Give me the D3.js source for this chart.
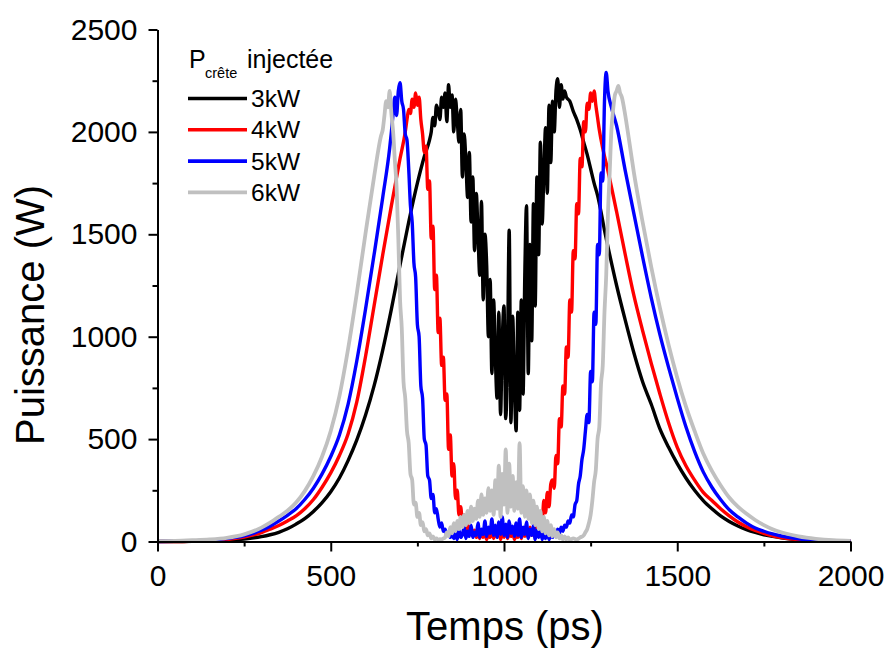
<!DOCTYPE html>
<html><head><meta charset="utf-8">
<script src="https://cdn.jsdelivr.net/npm/d3@7"></script>
<style>
body{margin:0;background:#fff}
text{font-family:"Liberation Sans",Arial,Helvetica,sans-serif;fill:#000}
</style>
</head><body>
<svg id="c" width="889" height="648"></svg>
<script>
// ---------- DATA ----------
const xTicks = [0, 500, 1000, 1500, 2000];
const xMinorTicks = [250, 750, 1250, 1750];
const yTicks = [0, 500, 1000, 1500, 2000, 2500];
const yMinorTicks = [250, 750, 1250, 1750, 2250];
const seriesNames = ["3kW", "4kW", "5kW", "6kW"];
const seriesColors = ["#000000", "#ff0000", "#0000ff", "#c0c0c0"];

// [time (ps), power (W)]
const p3kW = [[0,0],[50,0],[100,1],[150,3],[200,6],[250,12],[300,24],[325,33],[350,45],[375,62],[400,85],[425,112],[450,147],[475,190],[500,243],[525,310],[550,395],[575,495],[600,615],[625,760],[650,935],[675,1135],[700,1350],[725,1560],[750,1750],[770,1880],[785,1960],
[790,2000],[795,2070],[800,2030],[805,2130],[810,2100],[815,2060],[820,2170],[825,2120],[830,2190],[835,2050],[840,2230],[845,2120],[850,2180],[855,2000],[860,2160],[865,2060],[870,1950],[875,2110],[880,1780],[885,1990],[890,1860],[895,1680],[900,1900],[905,1560],[910,1780],[915,1420],[920,1700],[925,1500],[930,1300],[935,1660],[940,1180],[945,1500],[950,1350],[955,1000],[960,1280],[965,820],[970,1180],[975,900],[980,700],[985,1120],[990,620],[995,980],[1000,1150],[1005,600],[1010,900],[1015,1520],[1020,580],[1025,1100],[1030,760],[1035,540],[1040,1120],[1045,640],[1050,1180],[1055,720],[1060,1300],[1065,1640],[1070,820],[1075,1450],[1080,980],[1085,1650],[1090,1150],[1095,1780],[1100,1400],[1105,1950],[1110,1550],[1115,1800],[1120,2020],[1125,1700],[1130,2130],[1135,1850],[1140,2150],[1145,2000],[1150,2200],[1155,2260],[1160,2120],[1165,2230],[1170,2160],[1175,2200],[1180,2170],
[1190,2150],[1200,2100],[1210,2060],[1220,2010],[1230,1950],[1240,1890],[1250,1820],[1260,1750],[1270,1690],[1280,1610],[1290,1520],[1300,1440],[1325,1250],[1350,1080],[1375,920],[1400,780],[1425,670],[1450,550],[1475,460],[1500,380],[1525,310],[1550,250],[1575,200],[1600,160],[1625,125],[1650,98],[1675,76],[1700,58],[1725,44],[1750,33],[1775,25],[1800,18],[1850,9],[1900,4],[1950,2],[2000,1]];

const p4kW = [[0,0],[50,0],[100,2],[150,5],[200,10],[250,22],[300,43],[325,60],[350,78],[375,100],[400,125],[425,160],[450,205],[475,265],[500,335],[525,420],[550,525],[575,680],[600,900],[625,1150],[650,1400],[675,1640],[700,1870],[715,2000],
[720,2060],[725,2110],[730,2090],[735,2160],[740,2120],[745,2190],[750,2130],[755,2170],[760,2060],[765,1990],[770,1900],[775,1930],[780,1720],[785,1760],[790,1480],[795,1540],[800,1230],[805,1300],[810,1020],[815,1090],[820,860],[825,900],[830,690],[835,720],[840,450],[845,520],[850,320],[855,380],[860,210],[865,250],[870,130],[875,170],[880,90],[885,130],[890,60],[895,90],
[900,40],[905,60],[910,25],[915,55],[920,20],[925,45],[930,15],[935,50],[940,20],[945,40],[950,10],[955,45],[960,20],[965,60],[970,15],[975,35],[980,25],[985,55],[990,10],[995,40],[1000,20],[1005,65],[1010,15],[1015,40],[1020,25],[1025,50],[1030,10],[1035,35],[1040,20],[1045,55],[1050,15],[1055,45],[1060,25],[1065,60],[1070,20],[1075,70],[1080,30],[1085,60],[1090,40],[1095,80],[1100,50],[1105,110],
[1110,90],[1115,200],[1120,140],[1125,240],[1130,170],[1135,280],[1140,300],[1145,260],[1150,420],[1155,380],[1160,600],[1165,560],[1170,760],[1175,720],[1180,950],[1185,900],[1190,1180],[1195,1120],[1200,1420],[1205,1380],[1210,1650],[1215,1600],[1220,1870],[1225,1830],[1230,2050],[1235,2000],[1240,2140],[1245,2110],[1250,2190],[1255,2150],[1260,2200],[1265,2130],[1270,2070],[1275,2010],
[1285,1920],[1300,1810],[1325,1610],[1350,1400],[1375,1200],[1400,1030],[1425,870],[1450,720],[1475,580],[1500,460],[1525,370],[1550,300],[1575,240],[1600,200],[1625,160],[1650,125],[1675,95],[1700,72],[1725,54],[1750,40],[1775,28],[1800,19],[1850,9],[1900,4],[1950,2],[2000,1]];

const p5kW = [[0,0],[50,1],[100,3],[150,7],[200,14],[250,27],[300,55],[325,75],[350,100],[375,128],[400,160],[425,205],[450,260],[475,330],[500,415],[525,520],[550,670],[575,880],[600,1130],[625,1400],[650,1680],[670,1920],
[675,2000],[680,2090],[685,2170],[690,2080],[695,2200],[700,2240],[705,2150],[710,2110],[715,1990],[720,1960],[725,1820],[730,1640],[735,1560],[740,1360],[745,1290],[750,1060],[755,1000],[760,760],[765,700],[770,500],[775,470],[780,320],[785,300],[790,210],[795,230],[800,140],[805,160],[810,110],[815,70],[820,90],[825,50],[830,60],[835,30],[840,45],[845,20],[850,35],
[855,15],[860,40],[865,10],[870,55],[875,20],[880,35],[885,70],[890,15],[895,50],[900,25],[905,80],[910,20],[915,45],[920,30],[925,90],[930,20],[935,60],[940,35],[945,100],[950,25],[955,70],[960,40],[965,110],[970,30],[975,80],[980,20],[985,95],[990,35],[995,120],[1000,30],[1005,85],[1010,20],[1015,100],[1020,40],[1025,75],[1030,25],[1035,90],[1040,30],[1045,110],[1050,20],[1055,70],[1060,35],[1065,95],[1070,15],[1075,60],[1080,30],[1085,80],[1090,10],[1095,55],[1100,20],[1105,65],[1110,10],[1115,40],[1120,15],[1125,50],[1130,10],[1135,35],[1140,20],[1145,45],
[1150,30],[1155,60],[1160,40],[1165,70],[1170,50],[1175,80],[1180,70],[1185,100],[1190,90],[1195,130],[1200,120],[1205,180],[1210,200],[1215,280],[1220,320],[1225,400],[1230,450],[1235,540],[1240,620],[1245,580],[1250,830],[1255,780],[1260,1120],[1265,1060],[1270,1450],[1275,1400],[1280,1800],[1285,1760],[1290,2150],[1295,2290],[1300,2200],
[1310,2120],[1325,2030],[1350,1810],[1375,1600],[1400,1390],[1425,1190],[1450,1010],[1475,850],[1500,700],[1525,560],[1550,440],[1575,340],[1600,265],[1625,205],[1650,155],[1675,120],[1700,90],[1725,66],[1750,50],[1775,37],[1800,27],[1850,13],[1900,6],[1950,3],[2000,1]];

const p6kW = [[0,2],[50,3],[100,6],[150,10],[200,18],[250,35],[300,68],[325,92],[350,120],[375,150],[400,190],[425,246],[450,320],[475,415],[500,540],[525,710],[550,940],[575,1210],[600,1500],[625,1780],[645,1980],
[650,2010],[655,2080],[660,2150],[665,2120],[670,2200],[675,2090],[680,2000],[685,1860],[690,1730],[695,1480],[700,1180],[705,1040],[710,780],[715,700],[720,540],[725,480],[730,330],[735,300],[740,180],[745,190],[750,120],[755,140],[760,80],[765,95],[770,50],[775,60],[780,30],[785,40],[790,15],[795,25],[800,10],[805,15],[810,8],[815,12],[820,10],[825,15],[830,20],[835,45],[840,25],[845,70],[850,40],[855,90],[860,50],[865,100],[870,60],[875,120],[880,70],[885,130],[890,80],[895,150],[900,90],[905,170],[910,100],[915,160],[920,110],[925,200],[930,120],[935,230],[940,130],[945,210],[950,140],[955,260],[960,150],[965,250],[970,130],[975,300],[980,160],[985,370],[990,120],[995,330],[1000,180],[1005,450],[1010,140],[1015,380],[1020,170],[1025,320],[1030,150],[1035,290],[1040,160],[1045,480],[1050,140],[1055,270],[1060,120],[1065,250],[1070,110],[1075,230],[1080,90],[1085,200],[1090,80],[1095,170],[1100,60],[1105,150],[1110,50],[1115,120],[1120,40],[1125,100],[1130,30],[1135,80],[1140,25],[1145,60],[1150,20],[1155,45],[1160,15],[1165,30],[1170,10],[1175,25],[1180,10],[1185,20],[1190,8],[1200,15],[1210,10],[1220,20],[1230,30],[1235,45],[1240,60],[1245,90],[1250,130],[1255,200],[1260,290],[1265,350],[1270,500],[1275,560],[1280,770],[1285,860],[1290,1120],[1295,1300],[1300,1600],[1305,1800],[1310,2010],[1315,2110],[1320,2180],[1325,2200],[1330,2225],[1335,2190],[1340,2170],
[1350,2080],[1360,1970],[1375,1800],[1400,1560],[1425,1340],[1450,1140],[1475,960],[1500,800],[1525,660],[1550,540],[1575,430],[1600,345],[1625,275],[1650,215],[1675,170],[1700,135],[1725,105],[1750,80],[1775,60],[1800,45],[1850,25],[1900,13],[1950,6],[2000,3]];

const seriesData = [p3kW, p4kW, p5kW, p6kW];

// ---------- CHART ----------
const svg = d3.select("#c");
const x = d3.scaleLinear().domain([0, 2000]).range([157.5, 850.5]);
const y = d3.scaleLinear().domain([0, 2500]).range([541.5, 29.5]);

const line = d3.line().x(d => x(d[0])).y(d => y(d[1])).curve(d3.curveMonotoneX);

svg.append("g").selectAll("path").data(seriesData).join("path")
  .attr("d", line)
  .attr("fill", "none")
  .attr("stroke", (d, i) => seriesColors[i])
  .attr("stroke-width", (d, i) => i === 3 ? 3.8 : 3.4)
  .attr("stroke-linejoin", "round");

// axes
function styleAxis(g) {
  g.select(".domain").attr("stroke", "#000").attr("stroke-width", 2);
  g.selectAll(".tick line").attr("stroke", "#000").attr("stroke-width", 2);
  g.selectAll(".tick text").attr("font-size", 30).attr("fill", "#000")
    .attr("font-family", '"Liberation Sans",Arial,sans-serif');
}
const gx = svg.append("g").attr("transform", "translate(0,541.5)")
  .call(d3.axisBottom(x).tickValues(xTicks).tickSize(10).tickSizeOuter(0).tickPadding(13).tickFormat(d3.format("d")));
styleAxis(gx);
const gxm = svg.append("g").attr("transform", "translate(0,541.5)")
  .call(d3.axisBottom(x).tickValues(xMinorTicks).tickSize(5).tickSizeOuter(0).tickFormat(""));
styleAxis(gxm); gxm.select(".domain").remove();

const gy = svg.append("g").attr("transform", "translate(157.5,0)")
  .call(d3.axisLeft(y).tickValues(yTicks).tickSize(9).tickSizeOuter(0).tickPadding(11).tickFormat(d3.format("d")));
styleAxis(gy);
const gym = svg.append("g").attr("transform", "translate(157.5,0)")
  .call(d3.axisLeft(y).tickValues(yMinorTicks).tickSize(5).tickSizeOuter(0).tickFormat(""));
styleAxis(gym); gym.select(".domain").remove();

// axis titles
svg.append("text").attr("x", 505).attr("y", 640).attr("text-anchor", "middle")
  .attr("font-size", 40).text("Temps (ps)");
svg.append("text").attr("transform", "translate(43.5,315) rotate(-90)").attr("text-anchor", "middle")
  .attr("font-size", 40).text("Puissance (W)");

// legend
const lg = svg.append("g");
lg.append("text").attr("x", 189).attr("y", 68).attr("font-size", 25).text("P");
lg.append("text").attr("x", 205).attr("y", 78).attr("font-size", 14.5).text("crête");
lg.append("text").attr("x", 247).attr("y", 68).attr("font-size", 25).text("injectée");
const items = lg.selectAll("g.item").data(seriesNames).join("g").attr("class", "item")
  .attr("transform", (d, i) => `translate(0,${98.5 + i * 31.3})`);
items.append("line").attr("x1", 188).attr("x2", 247).attr("y1", 0).attr("y2", 0)
  .attr("stroke", (d, i) => seriesColors[i]).attr("stroke-width", 3.6);
items.append("text").attr("x", 251).attr("y", 8.5).attr("font-size", 24.5).text(d => d);
</script>
</body></html>
